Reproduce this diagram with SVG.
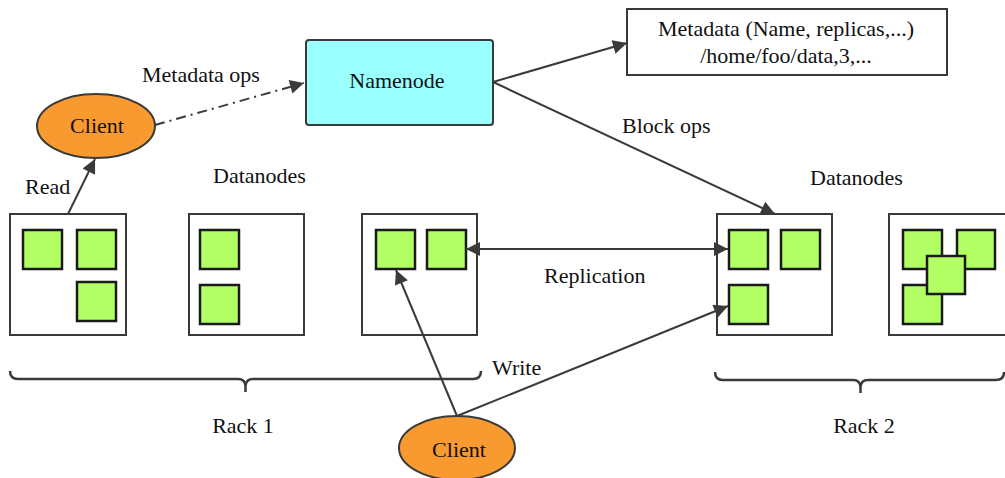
<svg xmlns="http://www.w3.org/2000/svg" width="1005" height="478" viewBox="0 0 1005 478">
<style>
text{font-family:"Liberation Serif","Times New Roman",serif;font-size:22px;fill:#111}
.c{text-anchor:middle}
.dn{fill:#fff;stroke:#3a3a3a;stroke-width:2}
.blk{fill:#b3ff66;stroke:#1a1a1a;stroke-width:2.5}
.ln{fill:none;stroke:#3a3a3a;stroke-width:2}
.br{fill:none;stroke:#3a3a3a;stroke-width:2.5}
</style>
<defs>
<marker id="ah2" viewBox="0 0 10 10" refX="10" refY="5" markerWidth="18" markerHeight="14" markerUnits="userSpaceOnUse" orient="auto-start-reverse">
<path d="M0,0 L10,5 L0,10 z" fill="#3a3a3a"/>
</marker>
</defs>

<g id="namenode">
<rect x="306" y="40" width="187" height="85" rx="3" fill="#99ffff" stroke="#3a3a3a" stroke-width="2"/>
<text class="c" x="397" y="88">Namenode</text>
</g>

<g id="metadata">
<rect x="627" y="9" width="320" height="66" fill="#fff" stroke="#3a3a3a" stroke-width="2"/>
<text class="c" x="786" y="36">Metadata (Name, replicas,...)</text>
<text class="c" x="786" y="63">/home/foo/data,3,...</text>
</g>

<g id="client-read">
<ellipse cx="96" cy="126" rx="59" ry="32" fill="#f99a30" stroke="#3a3a3a" stroke-width="2"/>
<text class="c" x="97" y="133">Client</text>
</g>

<g id="client-write">
<ellipse cx="457" cy="448" rx="58" ry="32" fill="#f99a30" stroke="#3a3a3a" stroke-width="2"/>
<text class="c" x="459" y="457">Client</text>
</g>

<g id="labels">
<text x="213" y="183">Datanodes</text>
<text x="810" y="185">Datanodes</text>
<text class="c" x="243" y="433">Rack 1</text>
<text class="c" x="864" y="433">Rack 2</text>
</g>

<g id="dn1">
<rect class="dn" x="10" y="214" width="116" height="121"/>
<rect class="blk" x="23" y="230" width="39" height="39"/>
<rect class="blk" x="77" y="230" width="39" height="39"/>
<rect class="blk" x="77" y="282" width="39" height="39"/>
</g>
<g id="dn2">
<rect class="dn" x="189" y="214" width="115" height="121"/>
<rect class="blk" x="200" y="230" width="39" height="39"/>
<rect class="blk" x="200" y="285" width="39" height="39"/>
</g>
<g id="dn3">
<rect class="dn" x="362" y="214" width="115" height="121"/>
<rect class="blk" x="376" y="230" width="39" height="39"/>
<rect class="blk" x="427" y="230" width="39" height="39"/>
</g>
<g id="dn4">
<rect class="dn" x="717" y="214" width="115" height="121"/>
<rect class="blk" x="729" y="230" width="39" height="39"/>
<rect class="blk" x="781" y="230" width="39" height="39"/>
<rect class="blk" x="729" y="285" width="39" height="39"/>
</g>
<g id="dn5">
<rect class="dn" x="889" y="214" width="118" height="121"/>
<rect class="blk" x="903" y="230" width="39" height="39"/>
<rect class="blk" x="957" y="230" width="38" height="39"/>
<rect class="blk" x="903" y="285" width="39" height="39"/>
<rect class="blk" x="927" y="256" width="38" height="38"/>
</g>

<g id="rack1">
<path class="br" d="M10,371 Q10,379 18,379 L238,379 Q245,379 245.5,386 L245.5,392 M245.5,386 Q246,379 253,379 L473,379 Q481,379 481,371"/>
</g>
<g id="rack2">
<path class="br" d="M715,372 Q715,380 723,380 L853,380 Q860,380 860.5,387 L860.5,393 M860.5,387 Q861,380 868,380 L996,380 Q1004,380 1004,372"/>
</g>

<g id="connectors">
<line class="ln" x1="155" y1="125" x2="304" y2="83" stroke-dasharray="10,5,2,5" marker-end="url(#ah2)"/>
<line class="ln" x1="68" y1="214" x2="95" y2="159" marker-end="url(#ah2)"/>
<line class="ln" x1="493" y1="82" x2="627" y2="43" marker-end="url(#ah2)"/>
<line class="ln" x1="493" y1="82" x2="775" y2="214" marker-end="url(#ah2)"/>
<line class="ln" x1="466" y1="249" x2="728" y2="249" marker-start="url(#ah2)" marker-end="url(#ah2)"/>
<line class="ln" x1="457" y1="416" x2="396" y2="270" marker-end="url(#ah2)"/>
<line class="ln" x1="457" y1="416" x2="728" y2="306" marker-end="url(#ah2)"/>
<text x="142" y="82">Metadata ops</text>
<text x="25" y="194">Read</text>
<text x="622" y="133">Block ops</text>
<text x="544" y="283">Replication</text>
<text x="492" y="375">Write</text>
</g>
</svg>
